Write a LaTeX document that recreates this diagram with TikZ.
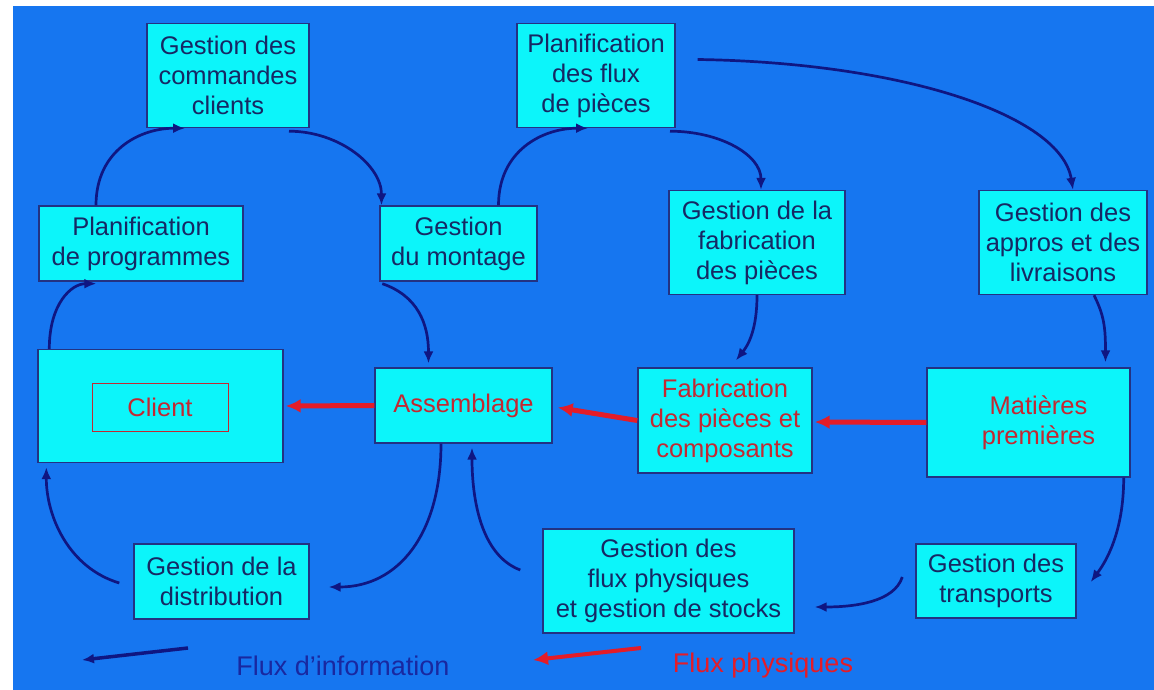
\documentclass[tikz,border=0pt]{standalone}
\usepackage{fontspec}
\setmainfont{Liberation Sans}
\usetikzlibrary{arrows.meta}
\definecolor{bgblue}{RGB}{22,118,240}
\definecolor{boxfill}{RGB}{12,245,250}
\definecolor{boxline}{RGB}{35,50,130}
\definecolor{txtnavy}{RGB}{22,40,100}
\definecolor{arrnavy}{RGB}{15,22,130}
\definecolor{txtred}{RGB}{195,40,50}
\definecolor{arrred}{RGB}{228,28,40}
\definecolor{legblue}{RGB}{25,40,160}
\tikzset{
  box/.style={draw=boxline, fill=boxfill, line width=1.4pt, align=center, inner sep=0pt,
    font=\fontsize{25.5}{30}\selectfont, text=txtnavy},
  redbox/.style={box, text=txtred},
  info/.style={draw=arrnavy, line width=2.7pt, -{Latex[length=12pt,width=10pt]}},
  phys/.style={draw=arrred, line width=5pt, -{Latex[length=15pt,width=14pt]}},
  legend/.style={font=\fontsize{27}{30}\selectfont, inner sep=0pt}
}
\begin{document}
\begin{tikzpicture}[x=1pt,y=-1pt]
\fill[white] (0,0) rectangle (1154,690);
\fill[bgblue] (13,6) rectangle (1154,690);
\useasboundingbox (0,0) rectangle (1154,690);

% information boxes
\node[box, minimum width=162pt, minimum height=104pt] (cmd) at (228,75.5) {Gestion des\\commandes\\clients};
\node[box, minimum width=158pt, minimum height=104pt] (pflux) at (596,75.5) {Planification\\des flux\\de pièces};
\node[box, minimum width=204pt, minimum height=75pt] (pprog) at (141,243.5) {Planification\\de programmes};
\node[box, minimum width=157pt, minimum height=75pt] (mont) at (458.5,243.5) {Gestion\\du montage};
\node[box, minimum width=176pt, minimum height=104pt] (gfab) at (757,242.5) {Gestion de la\\fabrication\\des pièces};
\node[box, minimum width=168pt, minimum height=104pt] (appros) at (1063,242.5) {Gestion des\\appros et des\\livraisons};
\node[box, minimum width=175pt, minimum height=75pt] (distr) at (221.5,581.5) {Gestion de la\\distribution};
\node[box, minimum width=251pt, minimum height=104pt] (fphys) at (668.5,581) {Gestion des\\flux physiques\\et gestion de stocks};
\node[box, minimum width=160pt, minimum height=74pt] (transp) at (996,581) {Gestion des\\transports};

% physical boxes
\node[box, minimum width=245pt, minimum height=113pt] (client) at (160.5,406) {};
\node[redbox, draw=txtred, line width=1pt, minimum width=136pt, minimum height=48pt] (clientin) at (160,407) {Client};
\node[redbox, minimum width=177pt, minimum height=75pt] (asm) at (463.5,405.5) {Assemblage};
\node[redbox, minimum width=174pt, minimum height=105pt] (fab) at (725,420.5) {Fabrication\\des pièces et\\composants};
\node[redbox, minimum width=203pt, minimum height=109pt] (mat) at (1028.5,422.5) {\hspace*{20pt}Matières\\\hspace*{20pt}premières};

% information flows
\draw[info] ([xshift=-45pt]pprog.north) .. controls +(0,-55) and +(-45,0) .. ([xshift=-43pt]cmd.south);
\draw[info] ([xshift=61pt,yshift=-3pt]cmd.south) .. controls +(50,0) and +(0,-40) .. ([xshift=-77pt]mont.north);
\draw[info] ([xshift=40pt]mont.north) .. controls +(0,-55) and +(-45,0) .. ([xshift=-8pt]pflux.south);
\draw[info] ([xshift=74pt,yshift=-3pt]pflux.south) .. controls +(50,0) and +(0,-35) .. ([xshift=4pt]gfab.north);
\draw[info] ([xshift=22pt,yshift=16pt]pflux.east) .. controls +(204,3) and +(-12,-75) .. ([xshift=10pt]appros.north);
\draw[info] ([xshift=3pt,yshift=-2pt]mont.south west) .. controls +(35,12) and +(0,-40) .. ([xshift=-35pt,yshift=4pt]asm.north);
\draw[info] (gfab.south) .. controls +(0,35) and +(12,-15) .. ([xshift=11pt,yshift=7pt]fab.north);
\draw[info] ([xshift=31pt]appros.south) .. controls +(10,20) and +(0,-35) .. ([xshift=77pt,yshift=5pt]mat.north);
\draw[info] ([xshift=12pt]client.north west) .. controls +(0,-45) and +(-25,0) .. ([xshift=58pt,yshift=-2pt]pprog.south west);
\draw[info] ([xshift=-7pt]mat.south east) .. controls +(0,55) and +(15,-20) .. ([xshift=14pt,yshift=-1pt]transp.east);
\draw[info] ([xshift=-13pt,yshift=4pt]transp.west) .. controls +(-8,25) and +(40,0) .. ([xshift=20pt,yshift=-26pt]fphys.east);
\draw[info] ([xshift=-22pt,yshift=11pt]fphys.west) .. controls +(-40,-15) and +(0,50) .. ([xshift=8.5pt,yshift=-4pt]asm.south);
\draw[info] ([xshift=-22.5pt]asm.south) .. controls +(0,90) and +(70,0) .. ([xshift=19pt,yshift=-5.5pt]distr.east);
\draw[info] ([xshift=-14pt,yshift=-1.5pt]distr.west) .. controls +(-50,-15) and +(0,50) .. ([xshift=9pt,yshift=-4pt]client.south west);

% physical flows
\draw[phys] (asm.west) -- ([xshift=2pt]client.east);
\draw[phys] (fab.west) -- ([xshift=5pt,yshift=-2pt]asm.east);
\draw[phys] (mat.west) -- ([xshift=2pt,yshift=-1.5pt]fab.east);

% legend
\coordinate (li1) at (188,648);
\coordinate (li2) at (82,660);
\draw[info, line width=3.5pt] (li1) -- (li2);
\node[legend, text=legblue] (lit) at (343,666) {Flux d'information};
\coordinate (lp1) at (641,648);
\coordinate (lp2) at (533,660);
\draw[phys, line width=4pt] (lp1) -- (lp2);
\node[legend, text=arrred] (lpt) at (763,666) {Flux physiques};
\end{tikzpicture}
\end{document}
